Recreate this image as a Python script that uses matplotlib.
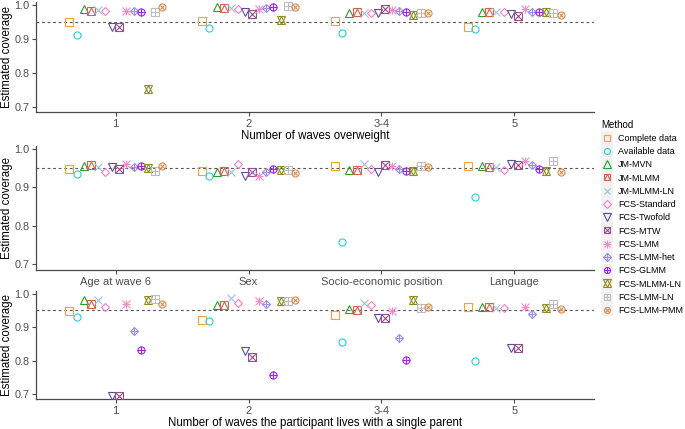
import numpy as np
import matplotlib
matplotlib.use('Agg')
import matplotlib.pyplot as plt
from matplotlib.lines import Line2D
from matplotlib.patches import Rectangle
from matplotlib.path import Path

plt.rcParams['font.family'] = ['Liberation Sans', 'DejaVu Sans']

methods = ['Complete data', 'Available data', 'JM-MVN', 'JM-MLMM', 'JM-MLMM-LN',
           'FCS-Standard', 'FCS-Twofold', 'FCS-MTW', 'FCS-LMM', 'FCS-LMM-het',
           'FCS-GLMM', 'FCS-MLMM-LN', 'FCS-LMM-LN', 'FCS-LMM-PMM']

colors = ['#F5A42A', '#25D0D3', '#2A9A2E', '#D8604F', '#9CC2D6',
          '#F47CC8', '#5A4E9C', '#98508C', '#F889C8', '#9C8EEE',
          '#A024E8', '#8E8E1C', '#BEBEBE', '#D98B50']

# panel 1: number of waves overweight
cats_overweight = ['1', '2', '3-4', '5']
overweight = [
    [0.948, 0.952, 0.952, 0.936],
    [0.912, 0.932, 0.918, 0.929],
    [0.988, 0.993, 0.977, 0.979],
    [0.983, 0.991, 0.979, 0.980],
    [0.985, 0.991, 0.977, 0.979],
    [0.983, 0.988, 0.977, 0.979],
    [0.936, 0.978, 0.975, 0.973],
    [0.934, 0.972, 0.988, 0.966],
    [0.981, 0.988, 0.985, 0.987],
    [0.983, 0.991, 0.982, 0.979],
    [0.980, 0.992, 0.978, 0.979],
    [0.754, 0.954, 0.971, 0.979],
    [0.979, 0.995, 0.977, 0.977],
    [0.993, 0.993, 0.977, 0.971],
]

# panel 2: baseline covariates
cats_baseline = ['Age at wave 6', 'Sex', 'Socio-economic position', 'Language']
baseline = [
    [0.948, 0.944, 0.957, 0.956],
    [0.936, 0.930, 0.758, 0.876],
    [0.955, 0.939, 0.946, 0.955],
    [0.958, 0.943, 0.946, 0.954],
    [0.952, 0.940, 0.961, 0.952],
    [0.940, 0.960, 0.948, 0.946],
    [0.952, 0.931, 0.939, 0.961],
    [0.948, 0.939, 0.958, 0.958],
    [0.961, 0.931, 0.955, 0.968],
    [0.952, 0.940, 0.948, 0.958],
    [0.957, 0.949, 0.944, 0.948],
    [0.950, 0.946, 0.942, 0.944],
    [0.944, 0.946, 0.955, 0.968],
    [0.957, 0.937, 0.952, 0.941],
]

# panel 3: number of waves with a single parent
cats_parent = ['1', '2', '3-4', '5']
single_parent = [
    [0.949, 0.922, 0.936, 0.960],
    [0.931, 0.917, 0.855, 0.798],
    [0.982, 0.966, 0.954, 0.959],
    [0.970, 0.967, 0.951, 0.960],
    [0.982, 0.988, 0.972, 0.956],
    [0.959, 0.973, 0.965, 0.957],
    [0.693, 0.829, 0.928, 0.837],
    [0.693, 0.812, 0.928, 0.838],
    [0.969, 0.977, 0.948, 0.960],
    [0.888, 0.969, 0.866, 0.939],
    [0.831, 0.756, 0.802, np.nan],
    [0.980, 0.979, 0.982, 0.956],
    [0.984, 0.979, 0.958, 0.970],
    [0.969, 0.980, 0.959, 0.955],
]

# R-like shapes built from overlaid matplotlib markers: (marker, size factor)
sq_tri = Path([(-0.5, -0.5), (0.0, 0.5), (0.5, -0.5)], [Path.MOVETO, Path.LINETO, Path.LINETO])
shapes = [
    [('s', 0.85)],
    [('o', 0.85)],
    [('^', 1.0)],
    [('s', 0.85), (sq_tri, 0.85)],
    [('x', 0.9)],
    [('D', 0.72)],
    [('v', 1.0)],
    [('s', 0.85), ('x', 0.85)],
    [('+', 1.05), ('x', 0.95)],
    [('D', 0.72), ('+', 1.02)],
    [('o', 0.85), ('+', 0.85)],
    [('^', 1.0), ('v', 1.0)],
    [('s', 0.85), ('+', 0.85)],
    [('o', 0.85), ('x', 0.6)],
]

MS = 6.0
MEW = 0.8
W, H = 685, 429
fig = plt.figure(figsize=(W / 100, H / 100), dpi=100)

def add_panel(top, bottom, cats, vals, xlabel):
    left, right = 36, 594
    ax = fig.add_axes([left / W, 1 - bottom / H, (right - left) / W, (bottom - top) / H])
    ax.set_xlim(0.4, len(cats) + 0.6)
    ax.set_ylim(0.685, 1.008)
    ax.axhline(0.95, color='#555555', lw=0.8, ls=(0, (2.5, 2.5)), zorder=1)
    n = len(methods)
    dodge = 0.75 / n
    for i in range(n):
        x = np.arange(1, len(cats) + 1) + (i - (n - 1) / 2) * dodge
        for mk, f in shapes[i]:
            ax.plot(x, vals[i], ls='none', marker=mk, ms=MS * f, mfc='none',
                    mec=colors[i], mew=MEW, zorder=3)
    ax.set_xticks(np.arange(1, len(cats) + 1))
    ax.set_xticklabels(cats)
    ax.set_yticks([0.7, 0.8, 0.9, 1.0])
    ax.set_yticklabels(['0.7', '0.8', '0.9', '1.0'])
    for s in ['top', 'right']:
        ax.spines[s].set_visible(False)
    for s in ['left', 'bottom']:
        ax.spines[s].set_color('#4a4a4a')
        ax.spines[s].set_linewidth(0.9)
    ax.tick_params(colors='#4a4a4a', length=3, width=0.8, labelsize=8, labelcolor='#4d4d4d', pad=2)
    ax.tick_params(axis='y', labelsize=7.8, pad=1.5)
    ax.set_ylabel('Estimated coverage', fontsize=8.3, labelpad=1)
    if xlabel:
        ax.set_xlabel(xlabel, fontsize=8.3, labelpad=1)
    return ax

add_panel(2, 112, cats_overweight, overweight, 'Number of waves overweight')
add_panel(146, 270, cats_baseline, baseline, None)
add_panel(291, 399, cats_parent, single_parent, 'Number of waves the participant lives with a single parent')

handles = []
for i in range(len(methods)):
    parts = tuple(Line2D([], [], ls='none', marker=mk, ms=MS * f * 0.85, mfc='none',
                         mec=colors[i], mew=MEW) for mk, f in shapes[i])
    handles.append(parts)

leg = fig.legend(handles, methods, loc='upper left', bbox_to_anchor=(598 / W, 1 - 116 / H),
                 frameon=False, fontsize=6.5, title='Method', title_fontsize=7,
                 handlelength=1.2, handletextpad=0.6, labelspacing=0.47, borderaxespad=0,
                 alignment='left')

# light grey key backgrounds, as in ggplot legends
fig.canvas.draw()
for h in leg.legend_handles:
    bb = h.get_window_extent()
    cx, cy = (bb.x0 + bb.x1) / 2, (bb.y0 + bb.y1) / 2
    fig.patches.append(Rectangle(((cx - 6) / W, (cy - 6.5) / H), 12 / W, 13 / H,
                                 transform=fig.transFigure, facecolor='#F2F2F2',
                                 edgecolor='none', zorder=-1))

fig.savefig('out.png', dpi=100)
